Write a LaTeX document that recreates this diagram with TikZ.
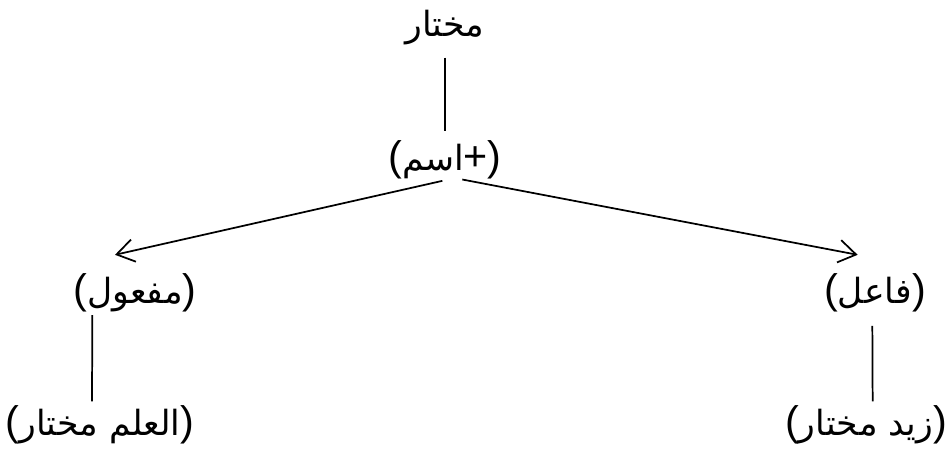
\documentclass[tikz,border=0pt]{standalone}
\usepackage{fontspec}
\setmainfont{Liberation Sans}
\newfontfamily\arabicfont[Script=Arabic]{DejaVu Sans}
\newcommand{\lat}[1]{{\normalfont\fontsize{31}{36}\selectfont #1}}
\TeXXeTstate=1
\usetikzlibrary{arrows.meta}

\begin{document}
\begin{tikzpicture}[x=0.75pt,y=-0.75pt,
  lbl/.style={inner sep=0pt,font=\arabicfont\fontsize{26}{32}\selectfont},
  link/.style={line width=1.3pt},
  pick/.style={line width=1.3pt,-{Straight Barb[length=13pt,width=17pt]}}]
\path[use as bounding box] (0,0) rectangle (950,450);

% labels
\node[lbl] (top) at (445,28) {\beginR مختار\endR};
\node[lbl] (ism) at (445,160) {\lat{(}\beginR اسم\endR\lat{+)}};
\node[lbl] (mafool) at (135,293) {\lat{(}\beginR مفعول\endR\lat{)}};
\node[lbl] (fail) at (875,293) {\lat{(}\beginR فاعل\endR\lat{)}};
\node[lbl] (alam) at (100,425) {\lat{(}\beginR العلم مختار\endR\lat{)}};
\node[lbl] (zayd) at (866,425) {\lat{(}\beginR زيد مختار\endR\lat{)}};

% connectors
\draw[link] ([yshift=-9pt]top.south) -- ([yshift=7pt]ism.north);
\draw[pick] ([shift={(-2pt,-1pt)}]ism.south) -- ([shift={(-15pt,14pt)}]mafool.north);
\draw[pick] ([shift={(13pt,0pt)}]ism.south) -- ([shift={(-13pt,14pt)}]fail.north);
\draw[link] ([shift={(-32pt,-2pt)}]mafool.south) -- ([shift={(-6pt,3pt)}]alam.north);
\draw[link] ([shift={(-2pt,-10pt)}]fail.south) -- ([shift={(5pt,3pt)}]zayd.north);
\end{tikzpicture}
\end{document}
